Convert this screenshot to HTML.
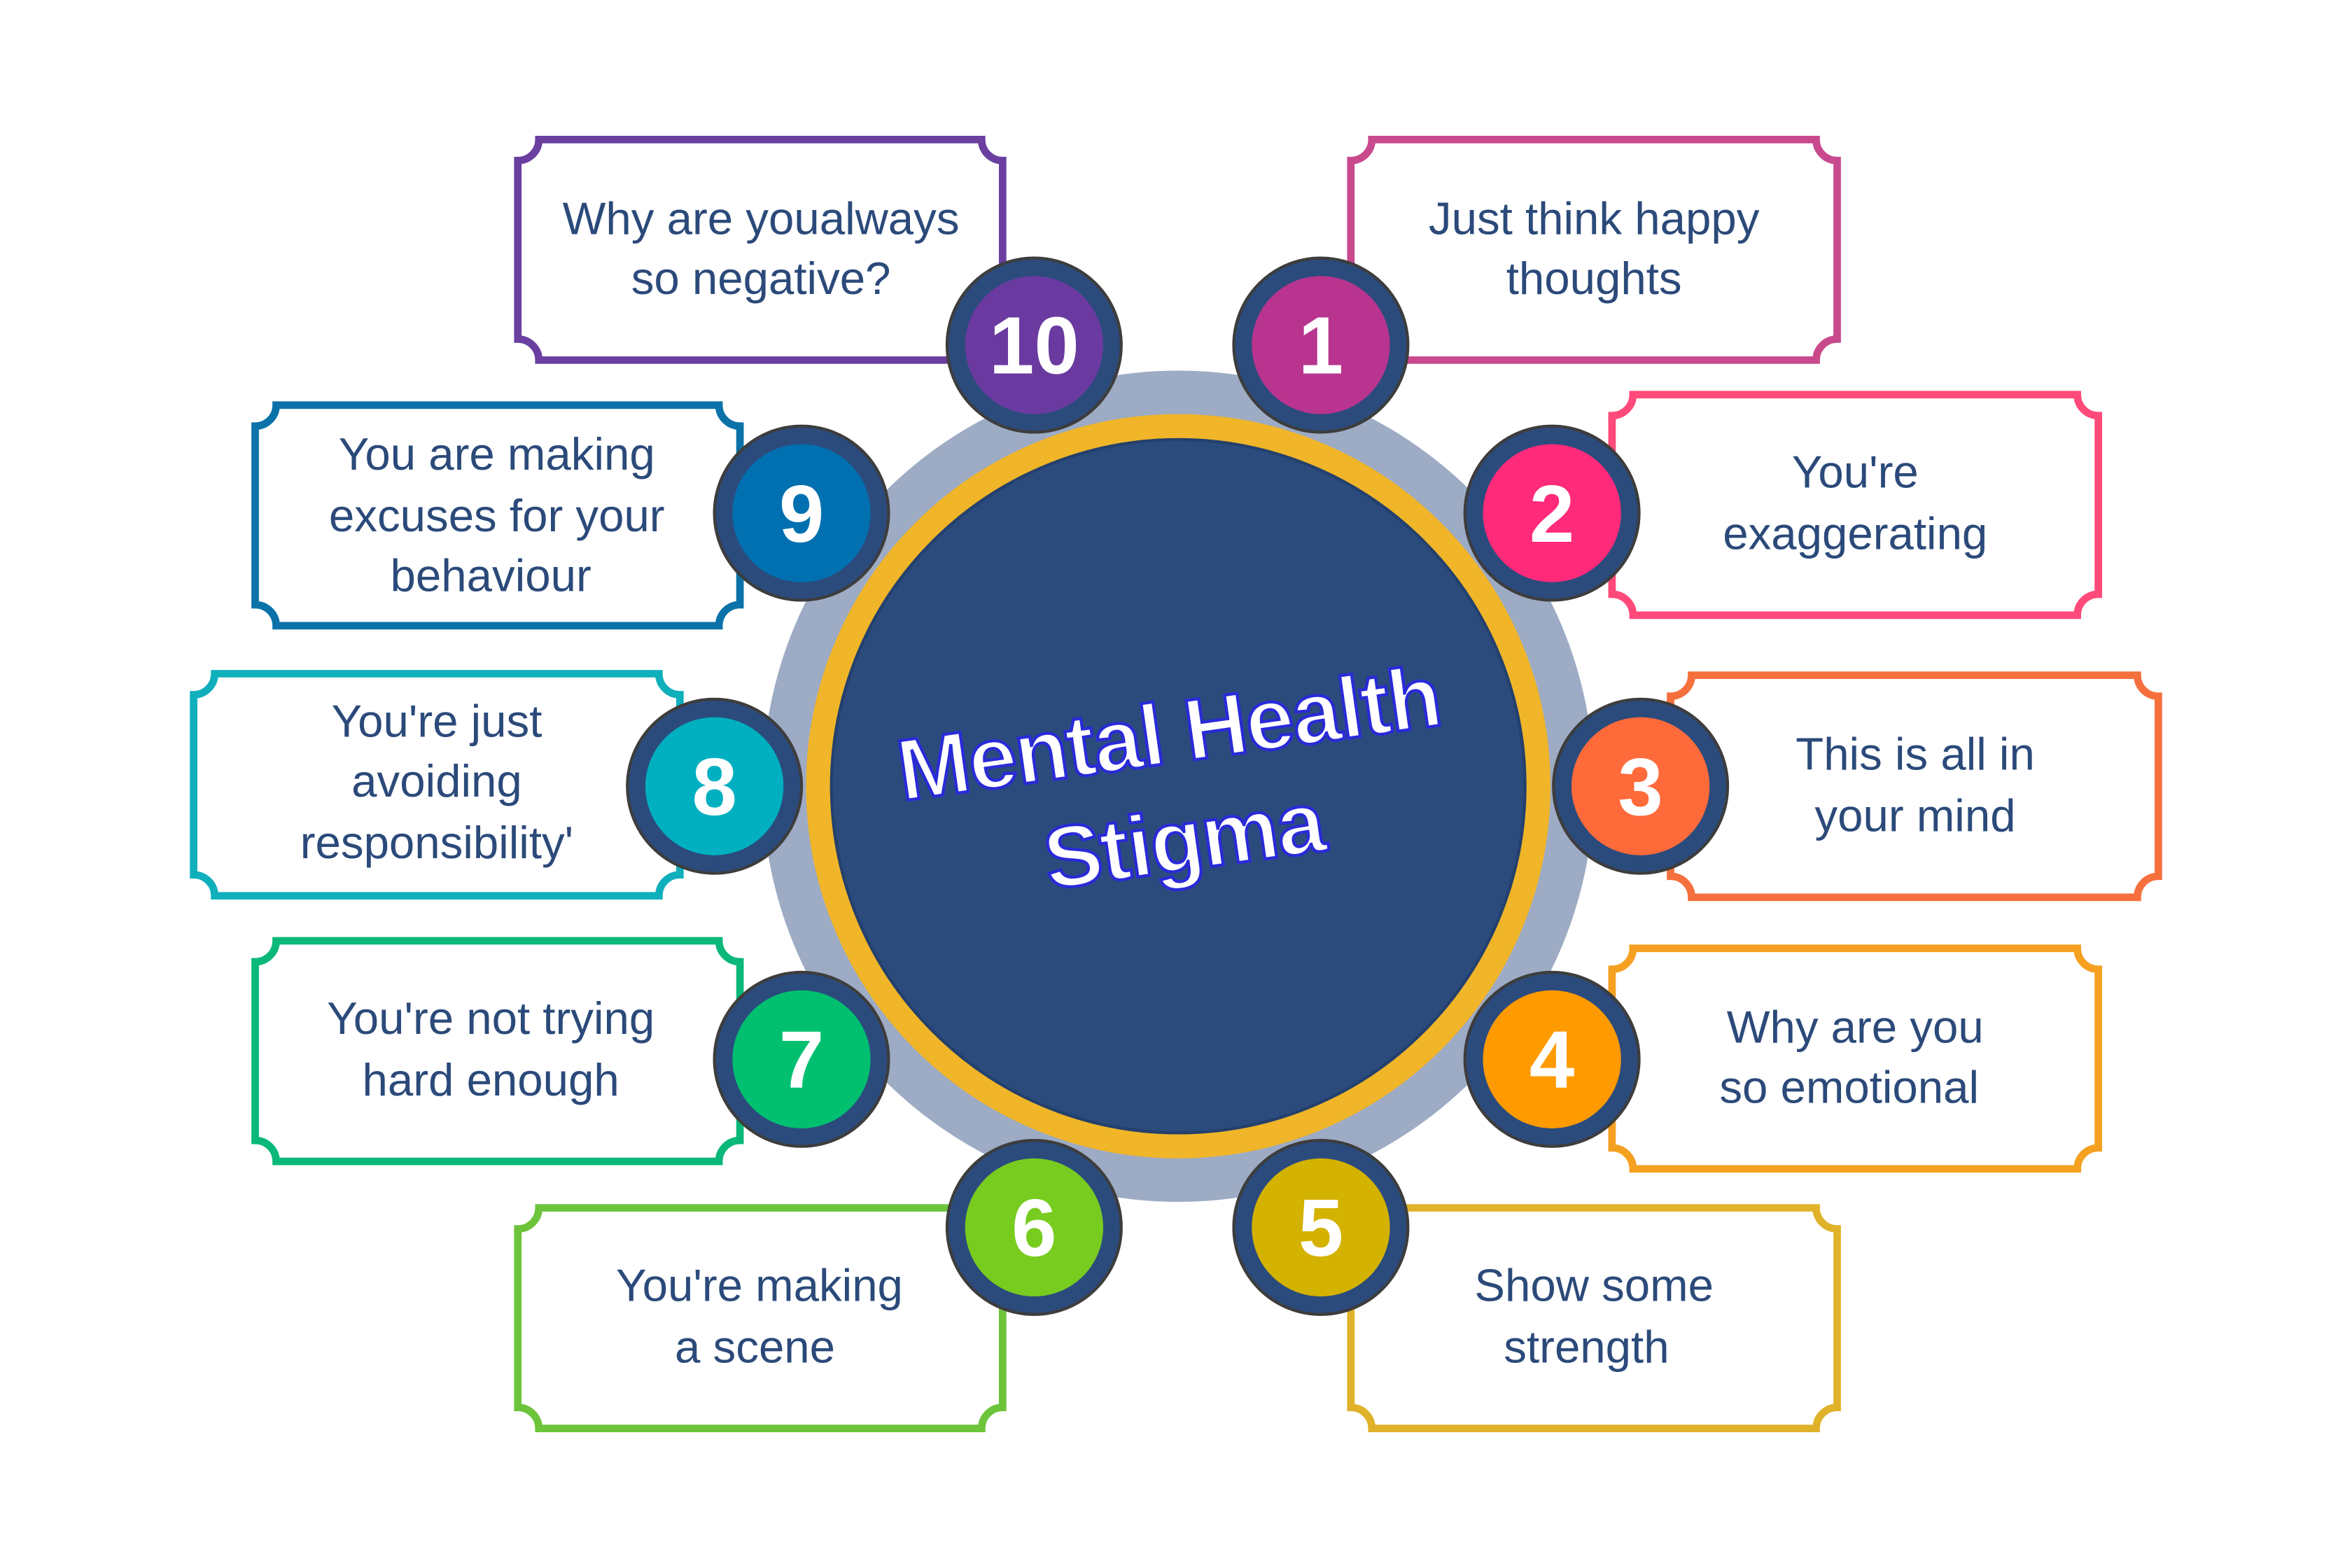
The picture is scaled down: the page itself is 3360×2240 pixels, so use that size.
<!DOCTYPE html>
<html><head><meta charset="utf-8"><style>
html,body{margin:0;padding:0;background:#fff;}
svg{display:block;}
text{font-family:"Liberation Sans",sans-serif;}
</style></head><body>
<svg width="3360" height="2240" viewBox="0 0 1567 1045" preserveAspectRatio="none" xmlns="http://www.w3.org/2000/svg">
<rect width="1567" height="1045" fill="#fff"/>
<g fill="#fff" stroke-width="5">
<path stroke="#c84a8d" d="M914,93H1210A14,14 0 0 0 1224,107V226A14,14 0 0 0 1210,240H914A14,14 0 0 0 900,226V107A14,14 0 0 0 914,93Z"/>
<path stroke="#ff4a7a" d="M1088,263H1384A14,14 0 0 0 1398,277V396A14,14 0 0 0 1384,410H1088A14,14 0 0 0 1074,396V277A14,14 0 0 0 1088,263Z"/>
<path stroke="#f5703d" d="M1127,450H1424A14,14 0 0 0 1438,464V584A14,14 0 0 0 1424,598H1127A14,14 0 0 0 1113,584V464A14,14 0 0 0 1127,450Z"/>
<path stroke="#f5a020" d="M1088,632H1384A14,14 0 0 0 1398,646V765A14,14 0 0 0 1384,779H1088A14,14 0 0 0 1074,765V646A14,14 0 0 0 1088,632Z"/>
<path stroke="#e0b22a" d="M914,805H1210A14,14 0 0 0 1224,819V938A14,14 0 0 0 1210,952H914A14,14 0 0 0 900,938V819A14,14 0 0 0 914,805Z"/>
<path stroke="#6cc43a" d="M359,805H654A14,14 0 0 0 668,819V938A14,14 0 0 0 654,952H359A14,14 0 0 0 345,938V819A14,14 0 0 0 359,805Z"/>
<path stroke="#0ab87a" d="M184,627H479A14,14 0 0 0 493,641V760A14,14 0 0 0 479,774H184A14,14 0 0 0 170,760V641A14,14 0 0 0 184,627Z"/>
<path stroke="#0fb0bc" d="M143,449H439A14,14 0 0 0 453,463V583A14,14 0 0 0 439,597H143A14,14 0 0 0 129,583V463A14,14 0 0 0 143,449Z"/>
<path stroke="#0a72a8" d="M184,270H479A14,14 0 0 0 493,284V403A14,14 0 0 0 479,417H184A14,14 0 0 0 170,403V284A14,14 0 0 0 184,270Z"/>
<path stroke="#6a3fa0" d="M359,93H654A14,14 0 0 0 668,107V226A14,14 0 0 0 654,240H359A14,14 0 0 0 345,226V107A14,14 0 0 0 359,93Z"/>
</g>
<circle cx="785" cy="524" r="277" fill="#9dabc4"/>
<circle cx="785" cy="524" r="240" fill="#2b4b7d" stroke="#f0b528" stroke-width="16"/>
<circle cx="785" cy="524" r="231" fill="none" stroke="#24406c" stroke-width="2"/>
<g font-size="30.5" fill="#2b4a7a" text-anchor="middle">
<text x="1062" y="156">Just think happy</text><text x="1062" y="196">thoughts</text>
<text x="1236" y="325">You're</text><text x="1236" y="366">exaggerating</text>
<text x="1276" y="513">This is all in</text><text x="1276" y="554">your mind</text>
<text x="1236" y="695">Why are you</text><text x="1232" y="735">so emotional</text>
<text x="1062" y="867">Show some</text><text x="1057" y="908">strength</text>
<text x="506" y="867">You're making</text><text x="503" y="908">a scene</text>
<text x="327" y="689">You're not trying</text><text x="327" y="730">hard enough</text>
<text x="291" y="491">You're just</text><text x="291" y="531">avoiding</text><text x="291" y="572">responsibility'</text>
<text x="331" y="313">You are making</text><text x="331" y="354">excuses for your</text><text x="327" y="394">behaviour</text>
<text x="507" y="156">Why are youalways</text><text x="507" y="196">so negative?</text>
</g>
<g stroke="#3d3d3d" stroke-width="2">
<g fill="#2b4b7d">
<circle cx="880" cy="230" r="58"/><circle cx="689" cy="230" r="58"/>
<circle cx="1034" cy="342" r="58"/><circle cx="534" cy="342" r="58"/>
<circle cx="1093" cy="524" r="58"/><circle cx="476" cy="524" r="58"/>
<circle cx="1034" cy="706" r="58"/><circle cx="534" cy="706" r="58"/>
<circle cx="880" cy="818" r="58"/><circle cx="689" cy="818" r="58"/>
</g>
</g>
<g>
<circle cx="880" cy="230" r="46" fill="#b8348e"/>
<circle cx="689" cy="230" r="46" fill="#6a3aa0"/>
<circle cx="1034" cy="342" r="46" fill="#ff2a7a"/>
<circle cx="534" cy="342" r="46" fill="#0070b0"/>
<circle cx="1093" cy="524" r="46" fill="#ff6a3a"/>
<circle cx="476" cy="524" r="46" fill="#00b0c0"/>
<circle cx="1034" cy="706" r="46" fill="#ff9a00"/>
<circle cx="534" cy="706" r="46" fill="#00c070"/>
<circle cx="880" cy="818" r="46" fill="#d4b200"/>
<circle cx="689" cy="818" r="46" fill="#78cc20"/>
</g>
<g font-size="54" font-weight="bold" fill="#fff" text-anchor="middle">
<text x="880" y="249">1</text><text x="689" y="249">10</text>
<text x="1034" y="361">2</text><text x="534" y="361">9</text>
<text x="1093" y="543">3</text><text x="476" y="543">8</text>
<text x="1034" y="725">4</text><text x="534" y="725">7</text>
<text x="880" y="837">5</text><text x="689" y="837">6</text>
</g>
<g transform="rotate(-8 785 520)" font-size="58" font-weight="bold" fill="#fff" stroke="#2a2ad8" stroke-width="2" text-anchor="middle" letter-spacing="-1">
<text x="783" y="508">Mental Health</text>
<text x="783" y="580">Stigma</text>
</g>
</svg>
</body></html>
